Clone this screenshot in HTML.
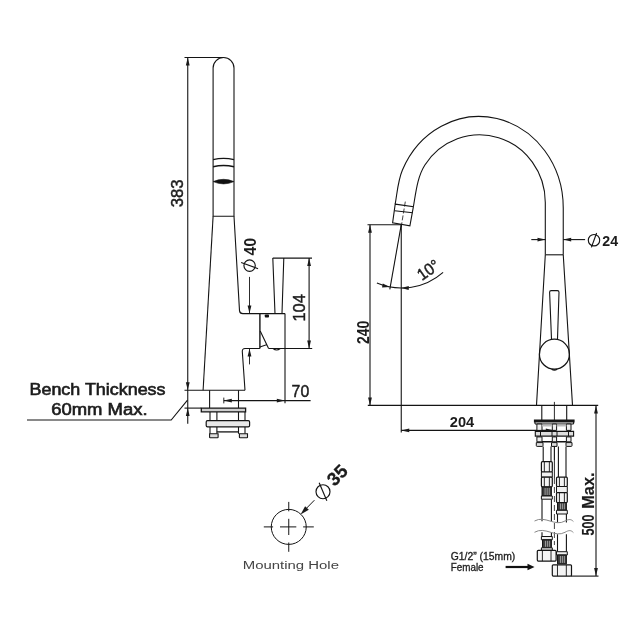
<!DOCTYPE html>
<html><head><meta charset="utf-8"><style>
html,body{margin:0;padding:0;background:#fff;width:640px;height:640px;overflow:hidden}
svg{display:block;will-change:transform}
text{font-family:"Liberation Sans",sans-serif}
</style></head><body>
<svg width="640" height="640" viewBox="0 0 640 640">
<rect width="640" height="640" fill="#fff"/>
<line x1="184.5" y1="57.5" x2="223.5" y2="57.5" stroke="#141414" stroke-width="1.1"/>
<line x1="187.75" y1="57.5" x2="187.75" y2="423.8" stroke="#141414" stroke-width="1.1"/>
<path d="M187.75,57.50 L189.65,65.50 L185.85,65.50 Z" fill="#1a1a1a"/>
<path d="M187.75,390.30 L185.85,382.30 L189.65,382.30 Z" fill="#1a1a1a"/>
<path d="M187.75,408.10 L189.65,416.10 L185.85,416.10 Z" fill="#1a1a1a"/>
<text x="183.2" y="193.3" font-size="17" font-weight="normal" text-anchor="middle" fill="#1c1c1c" transform="rotate(-90 183.2 193.3)" textLength="28" lengthAdjust="spacingAndGlyphs" stroke="#1c1c1c" stroke-width="0.45">383</text>
<path d="M213.1,216.3 V68 A10.45,10.45 0 0 1 234,68 V216.3 Z" stroke="#141414" stroke-width="1.1" fill="none" />
<path d="M213.1,159.6 Q223.55,157.1 234,159.6" stroke="#141414" stroke-width="1.4" fill="none" />
<path d="M213.1,166.7 Q223.55,164.2 234,166.7" stroke="#141414" stroke-width="1.4" fill="none" />
<path d="M213.1,181.6 Q223.55,177.0 234,181.6 Q223.55,186.2 213.1,181.6 Z" stroke="#141414" stroke-width="0.6" fill="#111" />
<path d="M213.1,216.3 L203.1,390.3" stroke="#141414" stroke-width="1.1" fill="none" />
<path d="M234,216.3 L239.5,310.6 Q239.7,313.6 242.8,313.6 L285,313.6" stroke="#141414" stroke-width="1.1" fill="none" />
<path d="M272.8,258.1 L275,313.6 M283.8,258.1 L282,313.6" stroke="#141414" stroke-width="1.1" fill="none" />
<line x1="272.8" y1="258.1" x2="312" y2="258.1" stroke="#141414" stroke-width="1.1"/>
<line x1="309.1" y1="258.1" x2="309.1" y2="348.5" stroke="#141414" stroke-width="1.1"/>
<path d="M309.10,258.10 L311.00,266.10 L307.20,266.10 Z" fill="#1a1a1a"/>
<path d="M309.10,348.50 L307.20,340.50 L311.00,340.50 Z" fill="#1a1a1a"/>
<text x="305" y="307.9" font-size="16.3" font-weight="normal" text-anchor="middle" fill="#1c1c1c" transform="rotate(-90 305 307.9)" textLength="27.4" lengthAdjust="spacingAndGlyphs" stroke="#1c1c1c" stroke-width="0.45">104</text>
<path d="M259.9,313.6 V348.5" stroke="#141414" stroke-width="1.4" fill="none" />
<path d="M260.2,331.1 L268.6,348.5 M259.9,346.9 L266.5,344.8" stroke="#141414" stroke-width="1.1" fill="none" />
<line x1="285" y1="313.6" x2="285" y2="403.2" stroke="#141414" stroke-width="1.1"/>
<rect x="264.8" y="314.5" width="4.2" height="3" rx="0.8" fill="#111"/>
<path d="M273.1,348.5 Q276.6,351.5 280.2,348.5" stroke="#141414" stroke-width="1.2" fill="none" />
<line x1="268.6" y1="348.5" x2="312.2" y2="348.5" stroke="#141414" stroke-width="1.1"/>
<path d="M259.9,348.5 L245,348.5 Q242.2,348.5 242.3,351.5 L245,390.3" stroke="#141414" stroke-width="1.1" fill="none" />
<line x1="184.5" y1="390.3" x2="245" y2="390.3" stroke="#141414" stroke-width="1.1"/>
<line x1="249.5" y1="276.9" x2="249.5" y2="313.6" stroke="#141414" stroke-width="0.9"/>
<path d="M249.50,313.60 L247.60,305.60 L251.40,305.60 Z" fill="#1a1a1a"/>
<line x1="249.5" y1="348.5" x2="249.5" y2="364.4" stroke="#141414" stroke-width="0.9"/>
<path d="M249.50,348.50 L251.40,356.50 L247.60,356.50 Z" fill="#1a1a1a"/>
<circle cx="249.6" cy="265.6" r="5.7" stroke="#141414" stroke-width="1.15" fill="none"/>
<line x1="241.14" y1="262.52" x2="258.06" y2="268.68" stroke="#141414" stroke-width="1.15"/>
<text x="255.6" y="246.7" font-size="16" font-weight="bold" text-anchor="middle" fill="#1c1c1c" transform="rotate(-90 255.6 246.7)" textLength="17.8" lengthAdjust="spacingAndGlyphs" >40</text>
<line x1="209.6" y1="390.3" x2="209.6" y2="408.1" stroke="#141414" stroke-width="1.1"/>
<line x1="238.5" y1="390.3" x2="238.5" y2="408.1" stroke="#141414" stroke-width="1.1"/>
<line x1="184.5" y1="408.1" x2="201.3" y2="408.1" stroke="#141414" stroke-width="1.1"/>
<path d="M201.3,408.1 H245.6 V411.9 H201.3 Z" stroke="#141414" stroke-width="1.3" fill="#cfcfcf" />
<path d="M210,411.9 V420.6 M216.9,411.9 V420.6 M238.5,411.9 V420.6 M245,411.9 V420.6" stroke="#141414" stroke-width="1.1" fill="none" />
<path d="M207.5,420.6 H248.2 Q249.6,420.6 249.6,422 V425.5 Q249.6,426.9 248.2,426.9 H207.5 Q206.2,426.9 206.2,425.5 V422 Q206.2,420.6 207.5,420.6 Z" stroke="#141414" stroke-width="1.2" fill="#e8e8e8" />
<path d="M210,426.9 V433.8 M216.9,426.9 V433.8 M238.5,426.9 V433.8 M245,426.9 V433.8" stroke="#141414" stroke-width="1.1" fill="none" />
<path d="M216.9,431.9 H238.5" stroke="#141414" stroke-width="1.3" fill="none" />
<path d="M209.6,433.8 H218.1 V437.2 Q218.1,437.8 217.5,437.8 H210.2 Q209.6,437.8 209.6,437.2 Z" stroke="#141414" stroke-width="1.1" fill="#ddd" />
<path d="M239.4,433.8 H247.5 V437.2 Q247.5,437.8 246.9,437.8 H240 Q239.4,437.8 239.4,437.2 Z" stroke="#141414" stroke-width="1.1" fill="#ddd" />
<line x1="223.8" y1="400.6" x2="310.6" y2="400.6" stroke="#141414" stroke-width="1.1"/>
<line x1="223.8" y1="397.6" x2="223.8" y2="403.4" stroke="#141414" stroke-width="0.9"/>
<path d="M223.80,400.60 L231.80,398.70 L231.80,402.50 Z" fill="#1a1a1a"/>
<path d="M284.80,400.60 L276.80,402.50 L276.80,398.70 Z" fill="#1a1a1a"/>
<text x="291.6" y="397.2" font-size="16" font-weight="normal" text-anchor="start" fill="#1c1c1c" textLength="17.6" lengthAdjust="spacingAndGlyphs" stroke="#1c1c1c" stroke-width="0.45">70</text>
<text x="97.5" y="395" font-size="15.6" font-weight="normal" text-anchor="middle" fill="#1c1c1c" textLength="136" lengthAdjust="spacingAndGlyphs" stroke="#1c1c1c" stroke-width="0.6">Bench Thickness</text>
<text x="99.4" y="415" font-size="15.6" font-weight="normal" text-anchor="middle" fill="#1c1c1c" textLength="96.4" lengthAdjust="spacingAndGlyphs" stroke="#1c1c1c" stroke-width="0.6">60mm Max.</text>
<path d="M27,420 H171.2 L187.5,400.2" stroke="#141414" stroke-width="1.1" fill="none" />
<path d="M563.25,254.8 V207.9 A84.2,91.4 0 0 0 402.43,170 C397.9,180.7 397.2,192.7 395.2,204.1" stroke="#141414" stroke-width="1.1" fill="none" />
<path d="M545.3,254.8 V202.5 A65.7,67.7 0 0 0 424.9,165 C417.3,176.8 415.83,192.8 413.4,206.6" stroke="#141414" stroke-width="1.1" fill="none" />
<path d="M395.2,204.1 L413.4,206.6 L409.9,225.9 L392.6,222.9 Z" stroke="#141414" stroke-width="1.1" fill="none" />
<line x1="394.6" y1="210.7" x2="412.6" y2="212.7" stroke="#141414" stroke-width="1.1"/>
<path d="M405.3,201.6 L400.7,230" stroke="#141414" stroke-width="0.8" fill="none" stroke-dasharray="5,2"/>
<line x1="367.5" y1="224.7" x2="401.2" y2="224.7" stroke="#141414" stroke-width="1.1"/>
<line x1="370" y1="224.7" x2="370" y2="405.4" stroke="#141414" stroke-width="1.1"/>
<path d="M370.00,224.70 L371.90,232.70 L368.10,232.70 Z" fill="#1a1a1a"/>
<path d="M370.00,405.40 L368.10,397.40 L371.90,397.40 Z" fill="#1a1a1a"/>
<text x="368.7" y="332.3" font-size="16" font-weight="bold" text-anchor="middle" fill="#1c1c1c" transform="rotate(-90 368.7 332.3)" textLength="23.4" lengthAdjust="spacingAndGlyphs" >240</text>
<line x1="401.25" y1="224.7" x2="401.25" y2="432.5" stroke="#141414" stroke-width="1.1"/>
<line x1="401.25" y1="224.7" x2="389.8" y2="289.4" stroke="#141414" stroke-width="1.1"/>
<path d="M376.9,283.1 A63.2,63.2 0 0 0 443.1,272.3" stroke="#141414" stroke-width="1.1" fill="none" />
<path d="M389.80,286.90 L382.06,287.46 L382.81,283.54 Z" fill="#1a1a1a"/>
<path d="M401.25,287.90 L408.79,286.05 L408.71,290.05 Z" fill="#1a1a1a"/>
<text x="431.5" y="274.5" font-size="16.5" font-weight="normal" text-anchor="middle" fill="#1c1c1c" transform="rotate(-35 431.5 274.5)" textLength="23" lengthAdjust="spacingAndGlyphs" stroke="#1c1c1c" stroke-width="0.45">10°</text>
<line x1="401.25" y1="430.4" x2="554" y2="430.4" stroke="#141414" stroke-width="1.1"/>
<path d="M401.25,430.40 L409.25,428.50 L409.25,432.30 Z" fill="#1a1a1a"/>
<path d="M553.80,430.40 L545.80,432.30 L545.80,428.50 Z" fill="#1a1a1a"/>
<text x="462" y="427" font-size="15" font-weight="bold" text-anchor="middle" fill="#1c1c1c" textLength="24.4" lengthAdjust="spacingAndGlyphs" >204</text>
<line x1="367.8" y1="405.4" x2="598.2" y2="405.4" stroke="#141414" stroke-width="1.1"/>
<line x1="545.3" y1="254.8" x2="563.25" y2="254.8" stroke="#141414" stroke-width="1.1"/>
<path d="M545.3,254.8 L536.5,405.4 M563.25,254.8 L572.5,405.4" stroke="#141414" stroke-width="1.1" fill="none" />
<path d="M551.5,338.9 L549.6,292.2 Q549.6,290.6 551.2,290.6 H557.4 Q559,290.6 559,292.2 L557.5,338.9" stroke="#141414" stroke-width="1.1" fill="none" />
<circle cx="554.4" cy="354.2" r="15.0" stroke="#141414" stroke-width="1.25" fill="none"/>
<path d="M551.6,369.2 Q554.4,370.8 557.2,369.2" stroke="#141414" stroke-width="1.3" fill="none" />
<line x1="531.3" y1="239.6" x2="545.5" y2="239.6" stroke="#141414" stroke-width="1.1"/>
<path d="M545.50,239.60 L537.50,241.50 L537.50,237.70 Z" fill="#1a1a1a"/>
<line x1="563.2" y1="239.6" x2="585.1" y2="239.6" stroke="#141414" stroke-width="1.1"/>
<path d="M563.20,239.60 L571.20,237.70 L571.20,241.50 Z" fill="#1a1a1a"/>
<circle cx="594" cy="240.2" r="5.7" stroke="#141414" stroke-width="1.15" fill="none"/>
<line x1="591.4" y1="247.34" x2="596.6" y2="233.06" stroke="#141414" stroke-width="1.15"/>
<text x="602.3" y="245.5" font-size="14.4" font-weight="bold" text-anchor="start" fill="#1c1c1c" textLength="15.8" lengthAdjust="spacingAndGlyphs" >24</text>
<line x1="596" y1="405.4" x2="596" y2="576.1" stroke="#141414" stroke-width="1.1"/>
<path d="M596.00,405.40 L597.90,413.40 L594.10,413.40 Z" fill="#1a1a1a"/>
<path d="M596.00,576.10 L594.10,568.10 L597.90,568.10 Z" fill="#1a1a1a"/>
<line x1="571" y1="576.1" x2="598.5" y2="576.1" stroke="#141414" stroke-width="1.1"/>
<text x="593.8" y="525" font-size="17" font-weight="bold" text-anchor="middle" fill="#1c1c1c" transform="rotate(-90 593.8 525)" textLength="21.2" lengthAdjust="spacingAndGlyphs" stroke="#1c1c1c" stroke-width="0.15">500</text>
<text x="593.8" y="490.6" font-size="17" font-weight="bold" text-anchor="middle" fill="#1c1c1c" transform="rotate(-90 593.8 490.6)" textLength="36.2" lengthAdjust="spacingAndGlyphs" stroke="#1c1c1c" stroke-width="0.15">Max.</text>
<line x1="554.4" y1="401.9" x2="554.4" y2="460" stroke="#141414" stroke-width="0.9"/>
<line x1="541.8" y1="405.4" x2="541.8" y2="420.3" stroke="#141414" stroke-width="1.1"/>
<line x1="566.7" y1="405.4" x2="566.7" y2="420.3" stroke="#141414" stroke-width="1.1"/>
<path d="M534.6,420.3 H573.9 V421.9 H534.6 Z" stroke="#141414" stroke-width="1.4" fill="#333" />
<path d="M535,421.9 H573.6 V424 H535 Z" stroke="#141414" stroke-width="1.0" fill="#e0e0e0" />
<path d="M536.9,424 H542 V430.4 H536.9 Z" stroke="#141414" stroke-width="1.0" fill="#eee" />
<path d="M552.3,424 H556.6 V430.4 H552.3 Z" stroke="#141414" stroke-width="1.0" fill="#eee" />
<path d="M566.4,424 H571 V430.4 H566.4 Z" stroke="#141414" stroke-width="1.0" fill="#eee" />
<path d="M542,425.5 H552.3 M556.6,425.5 H566.4" stroke="#bbb" stroke-width="1.8" fill="none" />
<path d="M535.3,431.4 H573.6 V436.1 H535.3 Z" stroke="#141414" stroke-width="1.1" fill="#ddd" />
<path d="M540.5,431.4 V436.1 M552,431.4 V436.1 M557,431.4 V436.1 M568.5,431.4 V436.1" stroke="#141414" stroke-width="1.0" fill="none" />
<path d="M536.9,436.9 H542 V441.8 H536.9 Z" stroke="#141414" stroke-width="1.0" fill="#eee" />
<path d="M552.3,436.9 H556.6 V441.8 H552.3 Z" stroke="#141414" stroke-width="1.0" fill="#eee" />
<path d="M566.4,436.9 H571 V441.8 H566.4 Z" stroke="#141414" stroke-width="1.0" fill="#eee" />
<path d="M542,441.8 H552.3 M556.6,441.8 H566.4" stroke="#141414" stroke-width="1.4" fill="none" />
<path d="M536.3,442.6 H543 V445.6 Q543,446.4 542.2,446.4 H537.1 Q536.3,446.4 536.3,445.6 Z" stroke="#141414" stroke-width="1.0" fill="#ddd" />
<path d="M566,442.6 H572 V445.6 Q572,446.4 571.2,446.4 H566.8 Q566,446.4 566,445.6 Z" stroke="#141414" stroke-width="1.0" fill="#ddd" />
<path d="M551.5,442.6 H557 V446.4 H551.5 Z" stroke="#141414" stroke-width="1.0" fill="#ddd" />
<line x1="543.2" y1="446.4" x2="543.2" y2="461.7" stroke="#141414" stroke-width="1.1"/>
<line x1="551" y1="446.4" x2="551" y2="461.7" stroke="#141414" stroke-width="1.1"/>
<path d="M542.4,461.7 H551.3 Q552.3,461.7 552.3,462.7 V471 Q552.3,472 551.3,472 H542.4 Q541.4,472 541.4,471 V462.7 Q541.4,461.7 542.4,461.7 Z" stroke="#141414" stroke-width="1.2" fill="#f4f4f4" />
<path d="M544.34,461.7 V472 M549.36,472 V461.7" stroke="#141414" stroke-width="0.9" fill="none" />
<path d="M541.4,472 H552.3 V477.2 H541.4 Z" stroke="#141414" stroke-width="1.0" fill="#f0f0f0" />
<path d="M542.4,477.2 H551.3 Q552.3,477.2 552.3,478.2 V485.8 Q552.3,486.8 551.3,486.8 H542.4 Q541.4,486.8 541.4,485.8 V478.2 Q541.4,477.2 542.4,477.2 Z" stroke="#141414" stroke-width="1.2" fill="#f4f4f4" />
<path d="M544.34,477.2 V486.8 M549.36,486.8 V477.2" stroke="#141414" stroke-width="0.9" fill="none" />
<path d="M542,487 H551.4 V496 H542 Z" stroke="#141414" stroke-width="1.0" fill="#3a3a3a" />
<line x1="545.10" y1="488" x2="545.10" y2="495" stroke="#aaa" stroke-width="0.9"/>
<line x1="547.17" y1="488" x2="547.17" y2="495" stroke="#aaa" stroke-width="0.9"/>
<line x1="549.24" y1="488" x2="549.24" y2="495" stroke="#aaa" stroke-width="0.9"/>
<path d="M541.4,496 H552.3 V499.2 H541.4 Z" stroke="#141414" stroke-width="1.0" fill="#f0f0f0" />
<line x1="542" y1="499.2" x2="542" y2="521.3" stroke="#141414" stroke-width="1.1"/>
<line x1="551.4" y1="499.2" x2="551.4" y2="521.3" stroke="#141414" stroke-width="1.1"/>
<line x1="542" y1="532.3" x2="542" y2="536.5" stroke="#141414" stroke-width="1.1"/>
<line x1="551.4" y1="532.3" x2="551.4" y2="536.5" stroke="#141414" stroke-width="1.1"/>
<path d="M541.4,536.5 H552.3 V539.8 H541.4 Z" stroke="#141414" stroke-width="1.0" fill="#f0f0f0" />
<path d="M542.5,539.8 H551.4 V547.8 H542.5 Z" stroke="#141414" stroke-width="1.0" fill="#3a3a3a" />
<line x1="545.44" y1="540.8" x2="545.44" y2="546.8" stroke="#aaa" stroke-width="0.9"/>
<line x1="547.39" y1="540.8" x2="547.39" y2="546.8" stroke="#aaa" stroke-width="0.9"/>
<line x1="549.35" y1="540.8" x2="549.35" y2="546.8" stroke="#aaa" stroke-width="0.9"/>
<path d="M541.4,547.8 H552.3 V550.3 H541.4 Z" stroke="#141414" stroke-width="1.0" fill="#f0f0f0" />
<path d="M538.3,550.3 H555.1 Q556.1,550.3 556.1,551.3 V560.1 Q556.1,561.1 555.1,561.1 H538.3 Q537.3,561.1 537.3,560.1 V551.3 Q537.3,550.3 538.3,550.3 Z" stroke="#141414" stroke-width="1.2" fill="#f4f4f4" />
<path d="M542.38,550.3 V561.1 M551.02,561.1 V550.3" stroke="#141414" stroke-width="0.9" fill="none" />
<line x1="558.4" y1="446.4" x2="558.4" y2="477.2" stroke="#141414" stroke-width="1.1"/>
<line x1="566" y1="446.4" x2="566" y2="477.2" stroke="#141414" stroke-width="1.1"/>
<path d="M557.5,477.2 H566.3 Q567.3,477.2 567.3,478.2 V485.5 Q567.3,486.5 566.3,486.5 H557.5 Q556.5,486.5 556.5,485.5 V478.2 Q556.5,477.2 557.5,477.2 Z" stroke="#141414" stroke-width="1.2" fill="#f4f4f4" />
<path d="M559.42,477.2 V486.5 M564.38,486.5 V477.2" stroke="#141414" stroke-width="0.9" fill="none" />
<path d="M556.5,486.5 H567.3 V492.6 H556.5 Z" stroke="#141414" stroke-width="1.0" fill="#f0f0f0" />
<path d="M557.5,492.6 H566.3 Q567.3,492.6 567.3,493.6 V501.5 Q567.3,502.5 566.3,502.5 H557.5 Q556.5,502.5 556.5,501.5 V493.6 Q556.5,492.6 557.5,492.6 Z" stroke="#141414" stroke-width="1.2" fill="#f4f4f4" />
<path d="M559.42,492.6 V502.5 M564.38,502.5 V492.6" stroke="#141414" stroke-width="0.9" fill="none" />
<path d="M557.5,502.5 H566.4 V510.3 H557.5 Z" stroke="#141414" stroke-width="1.0" fill="#3a3a3a" />
<line x1="560.44" y1="503.5" x2="560.44" y2="509.3" stroke="#aaa" stroke-width="0.9"/>
<line x1="562.39" y1="503.5" x2="562.39" y2="509.3" stroke="#aaa" stroke-width="0.9"/>
<line x1="564.35" y1="503.5" x2="564.35" y2="509.3" stroke="#aaa" stroke-width="0.9"/>
<path d="M556.5,510.3 H567.3 V514 H556.5 Z" stroke="#141414" stroke-width="1.0" fill="#f0f0f0" />
<line x1="557.5" y1="514" x2="557.5" y2="522.5" stroke="#141414" stroke-width="1.1"/>
<line x1="566.4" y1="514" x2="566.4" y2="522.5" stroke="#141414" stroke-width="1.1"/>
<line x1="557.5" y1="534.2" x2="557.5" y2="551.7" stroke="#141414" stroke-width="1.1"/>
<line x1="566.4" y1="534.2" x2="566.4" y2="551.7" stroke="#141414" stroke-width="1.1"/>
<path d="M556.5,551.7 H567.3 V555 H556.5 Z" stroke="#141414" stroke-width="1.0" fill="#f0f0f0" />
<path d="M557.5,555 H566.4 V563.9 H557.5 Z" stroke="#141414" stroke-width="1.0" fill="#3a3a3a" />
<line x1="560.44" y1="556" x2="560.44" y2="562.9" stroke="#aaa" stroke-width="0.9"/>
<line x1="562.39" y1="556" x2="562.39" y2="562.9" stroke="#aaa" stroke-width="0.9"/>
<line x1="564.35" y1="556" x2="564.35" y2="562.9" stroke="#aaa" stroke-width="0.9"/>
<path d="M553.3,564.8 H570.5 Q571.5,564.8 571.5,565.8 V575.1 Q571.5,576.1 570.5,576.1 H553.3 Q552.3,576.1 552.3,575.1 V565.8 Q552.3,564.8 553.3,564.8 Z" stroke="#141414" stroke-width="1.2" fill="#f4f4f4" />
<path d="M557.48,564.8 V576.1 M566.32,576.1 V564.8" stroke="#141414" stroke-width="0.9" fill="none" />
<path d="M554.4,446 V478" stroke="#141414" stroke-width="0.9" fill="none" />
<path d="M554.4,478 V545" stroke="#141414" stroke-width="0.8" fill="none" stroke-dasharray="6,3"/>
<path d="M534.5,521 C545,515 555,527 565,521 C569,519 571,519 573.4,521.5" stroke="#888" stroke-width="1.0" fill="none" />
<path d="M534.5,532.3 C545,526 555,538 565,532.3 C569,530 571,530 573.4,532.6" stroke="#888" stroke-width="1.0" fill="none" />
<text x="450.8" y="559.8" font-size="10" font-weight="normal" text-anchor="start" fill="#222" textLength="64.4" lengthAdjust="spacingAndGlyphs" stroke="#222" stroke-width="0.3">G1/2” (15mm)</text>
<text x="450.8" y="570.9" font-size="10" font-weight="normal" text-anchor="start" fill="#222" textLength="32.8" lengthAdjust="spacingAndGlyphs" stroke="#222" stroke-width="0.3">Female</text>
<line x1="505.6" y1="567" x2="529" y2="567" stroke="#111" stroke-width="2.2"/>
<path d="M534.50,567.00 L527.50,570.20 L527.50,563.80 Z" fill="#111"/>
<circle cx="288.75" cy="526.9" r="17.5" stroke="#141414" stroke-width="1.0" fill="none"/>
<path d="M263.8,526.9 H273.1 M280,526.9 H296.3 M303.1,526.9 H313.8 M288.75,501.9 V511.3 M288.75,518.8 V535 M288.75,542.5 V551.8" stroke="#141414" stroke-width="1.0" fill="none" />
<line x1="314.4" y1="500.2" x2="304" y2="510.8" stroke="#141414" stroke-width="1.0"/>
<path d="M300.60,514.40 L305.13,506.20 L308.80,509.87 Z" fill="#1a1a1a"/>
<circle cx="323" cy="491.7" r="7.0" stroke="#141414" stroke-width="1.15" fill="none"/>
<line x1="319.17" y1="482.68" x2="326.83" y2="500.72" stroke="#141414" stroke-width="1.15"/>
<text x="341.8" y="479.6" font-size="18.5" font-weight="bold" text-anchor="middle" fill="#1c1c1c" transform="rotate(-45 341.8 479.6)" textLength="20.6" lengthAdjust="spacingAndGlyphs" stroke="#1c1c1c" stroke-width="0.3">35</text>
<text x="290.9" y="568.6" font-size="11.7" font-weight="normal" text-anchor="middle" fill="#444" textLength="96.2" lengthAdjust="spacingAndGlyphs" >Mounting Hole</text>
</svg></body></html>
